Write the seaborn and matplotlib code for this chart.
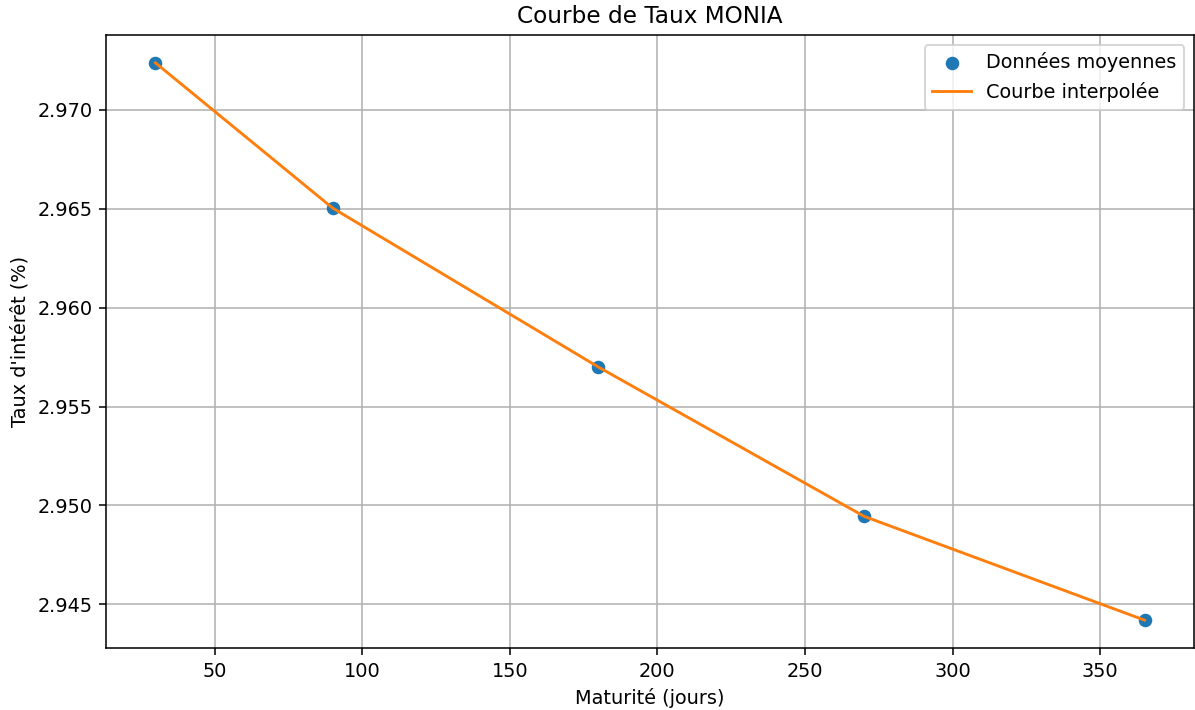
import matplotlib
matplotlib.use("Agg")
import matplotlib.pyplot as plt
import seaborn as sns
import pandas as pd

# Taux MONIA moyens par maturité
maturites = [30, 90, 180, 270, 365]
taux_moyens = [2.97238, 2.96504, 2.95700, 2.94945, 2.94420]

df = pd.DataFrame({"maturite": maturites, "taux": taux_moyens})

# figure rendue à 139 dpi -> 1195x710 px, tailles de police par défaut
dpi = 139
fig = plt.figure(figsize=(1195 / dpi, 710 / dpi), dpi=dpi)
ax = fig.add_axes([0.0887, 0.0873, 0.9105, 0.8634])

# Points moyens puis courbe par-dessus
sns.scatterplot(data=df, x="maturite", y="taux", color="tab:blue", s=36,
                edgecolor="tab:blue", linewidth=1, label="Données moyennes",
                ax=ax, zorder=2)
sns.lineplot(data=df, x="maturite", y="taux", color="tab:orange", linewidth=1.5,
             label="Courbe interpolée", ax=ax, zorder=3)

ax.set_title("Courbe de Taux MONIA")
ax.set_xlabel("Maturité (jours)")
ax.set_ylabel("Taux d'intérêt (%)")
ax.grid(True)
ax.set_axisbelow(True)
ax.legend(loc="upper right")

fig.savefig("out.png", dpi=dpi)
